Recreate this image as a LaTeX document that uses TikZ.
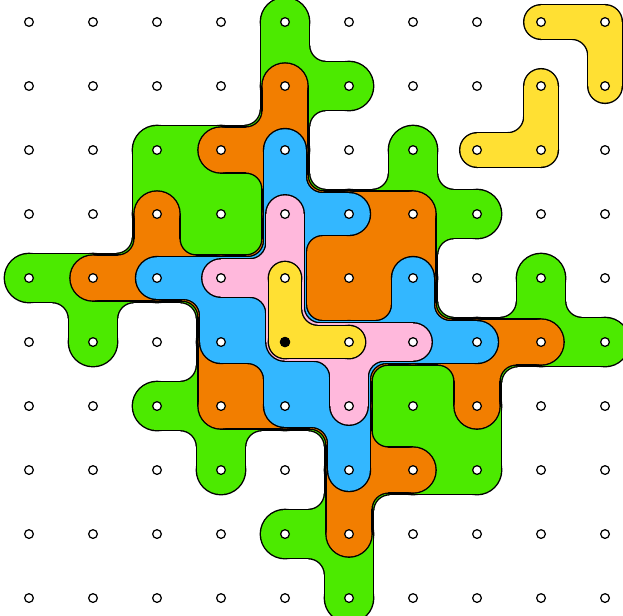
\documentclass[tikz,border=0pt]{standalone}
\usepackage{tikz}

\definecolor{ringgreen}{RGB}{76,234,0}
\definecolor{ringorange}{RGB}{242,126,0}
\definecolor{ringblue}{RGB}{51,183,255}
\definecolor{ringpink}{RGB}{255,184,220}
\definecolor{ringyellow}{RGB}{255,224,51}
\tikzset{
  griddot/.style={draw=black,fill=white,line width=0.55pt},
  seeddot/.style={draw=black,fill=black,line width=0.55pt}
}
\def\olw{0.022}
\def\fr{0.26}
\newcount\blobno
\newif\ifhaspt
\newcommand{\markpts}[1]{%
  \global\advance\blobno by 1
  \foreach \px/\py in #1 {\expandafter\xdef\csname pt@\px @\py\endcsname{\the\blobno}}}
\newcommand{\testpt}[2]{%
  \edef\ptname{pt@\the\numexpr#1\relax @\the\numexpr#2\relax}%
  \hasptfalse
  \ifcsname\ptname\endcsname
    \ifnum\csname\ptname\endcsname=\blobno\haspttrue\fi
  \fi}
% points, half width, fillet radius, colour
\newcommand{\blobpass}[4]{%
  \foreach \px/\py in #1 {%
    \fill[#4] (\px,-\py) circle[radius=#2];
    \testpt{\px+1}{\py}%
    \ifhaspt \fill[#4] (\px,-\py-#2) rectangle (\px+1,-\py+#2); \fi
    \testpt{\px}{\py+1}%
    \ifhaspt \fill[#4] (\px-#2,-\py) rectangle (\px+#2,-\py-1); \fi
    \testpt{\px+1}{\py}%
    \ifhaspt \testpt{\px}{\py+1}%
      \ifhaspt \testpt{\px+1}{\py+1}%
        \ifhaspt \fill[#4] (\px,-\py) rectangle (\px+1,-\py-1); \fi
      \fi
    \fi
    \foreach \dx/\dy in {1/1,1/-1,-1/1,-1/-1} {%
      \testpt{\px+\dx}{\py}%
      \ifhaspt \testpt{\px}{\py+\dy}%
        \ifhaspt \testpt{\px+\dx}{\py+\dy}%
          \ifhaspt\else
            \pgfmathsetmacro\cx{\px+#2*\dx}%
            \pgfmathsetmacro\cy{-\py-#2*\dy}%
            \fill[#4] (\cx+#3*\dx,\cy+0.02*\dy) -- (\cx+#3*\dx,\cy)
              .. controls (\cx+0.4477*#3*\dx,\cy) and (\cx,\cy-0.4477*#3*\dy) .. (\cx,\cy-#3*\dy)
              -- (\cx-0.02*\dx,\cy-#3*\dy) -- (\cx-0.02*\dx,\cy+0.02*\dy) -- cycle;
          \fi
        \fi
      \fi
    }
  }}
% points, colour, half width
\newcommand{\blob}[3]{%
  \markpts{#1}%
  \pgfmathsetmacro\wout{#3+\olw}%
  \pgfmathsetmacro\fout{\fr-\olw}%
  \blobpass{#1}{\wout}{\fout}{black}%
  \blobpass{#1}{#3}{\fr}{#2}}

\edef\ptsyellow{4/4,4/5,5/5}
\edef\ptspink{\ptsyellow,4/3,3/4,6/5,5/6}
\edef\ptsblue{\ptspink,4/2,5/3,2/4,6/4,3/5,7/5,4/6,5/7}
\edef\ptsorange{\ptsblue,4/1,3/2,2/3,6/3,1/4,5/4,8/5,3/6,7/6,6/7,5/8}
\edef\ptsgreen{\ptsorange,4/0,5/1,2/2,6/2,3/3,7/3,0/4,8/4,1/5,9/5,2/6,6/6,3/7,7/7,4/8,5/9}
\edef\ptsfarA{8/0,9/0,9/1}
\edef\ptsfarB{8/1,8/2,7/2}

\begin{document}
\begin{tikzpicture}
  \useasboundingbox (-0.453,0.344) rectangle (9.281,-9.266);
  \blob{\ptsgreen}{ringgreen}{0.375}
  \blob{\ptsorange}{ringorange}{0.35}
  \blob{\ptsblue}{ringblue}{0.325}
  \blob{\ptspink}{ringpink}{0.29}
  \blob{\ptsyellow}{ringyellow}{0.25}
  \blob{\ptsfarA}{ringyellow}{0.26}
  \blob{\ptsfarB}{ringyellow}{0.26}
  \foreach \i in {0,...,9}
    \foreach \j in {0,...,9}
      \draw[griddot] (\i,-\j) circle[radius=0.068];
  \draw[seeddot] (4,-5) circle[radius=0.072];
\end{tikzpicture}
\end{document}
